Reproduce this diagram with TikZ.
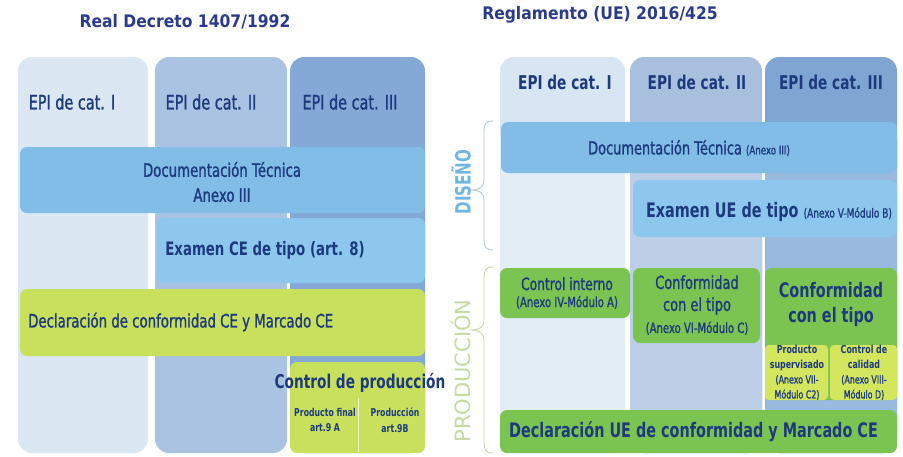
\documentclass[tikz,border=0pt]{standalone}
\usepackage{fontspec}
\setmainfont{DejaVu Sans}
\newfontfamily\nar{DejaVu Sans}[FakeStretch=0.72, FakeBold=1.2]
\newfontfamily\narb{DejaVu Sans Bold}[FakeStretch=0.72]
\newfontfamily\ttl{DejaVu Sans Bold}[FakeStretch=0.9]
\newfontfamily\sidef{DejaVu Sans}
\definecolor{navy}{HTML}{1E3A7E}
\definecolor{ttlc}{HTML}{2B3B8C}
\definecolor{lA}{HTML}{DBE7F3}
\definecolor{lB}{HTML}{AAC3E2}
\definecolor{lC}{HTML}{85A9D6}
\definecolor{rAh}{HTML}{D8E5F2}
\definecolor{rBh}{HTML}{A8BFDD}
\definecolor{rCh}{HTML}{7FA5D2}
\definecolor{rA}{HTML}{E3EDF6}
\definecolor{rB}{HTML}{BCCFE7}
\definecolor{rC}{HTML}{9AB9DE}
\definecolor{bband}{HTML}{82BDE8}
\definecolor{bexam}{HTML}{8DC7EE}
\definecolor{lime}{HTML}{C8E05C}
\definecolor{grn}{HTML}{7CC452}
\definecolor{subyel}{HTML}{D3E65E}
\definecolor{disc}{HTML}{6FB6E2}
\definecolor{discb}{HTML}{B5C8D6}
\definecolor{prodc}{HTML}{C6D9A0}
\definecolor{prodb}{HTML}{C8D6A8}
\begin{document}
\begin{tikzpicture}[x=1pt,y=-1pt,
  colbox/.style={inner sep=0pt, outer sep=0pt, rounded corners=14pt},
  band/.style={inner sep=0pt, outer sep=0pt, rounded corners=7pt},
  lbl/.style={inner sep=0pt, text=navy, align=center},
  bracel/.style={line width=0.9pt}
]
\useasboundingbox[fill=white] (0,0) rectangle (903,456);

% ---------- Left panel ----------
\node[inner sep=0pt, text=ttlc, font=\ttl\fontsize{17.3}{20}\selectfont] (Ltitle) at (185,22) {Real Decreto 1407/1992};

\node[colbox, fill=lA, minimum width=130pt, minimum height=396pt] (L1) at (83,255) {};
\node[colbox, fill=lB, minimum width=132pt, minimum height=396pt] (L2) at (221,255) {};
\node[colbox, fill=lC, minimum width=135pt, minimum height=396pt] (L3) at (357.5,255) {};

\node[lbl, font=\nar\fontsize{20}{24}\selectfont] (L1h) at (72,102) {EPI de cat. I};
\node[lbl, font=\nar\fontsize{20}{24}\selectfont] (L2h) at (211,102) {EPI de cat. II};
\node[lbl, font=\nar\fontsize{20}{24}\selectfont] (L3h) at (350,102) {EPI de cat. III};

\node[band, fill=bband, minimum width=405pt, minimum height=66pt] (LDoc) at (222.5,180) {};
\node[lbl, font=\nar\fontsize{18.5}{25}\selectfont] (LDoct) at (222,182) {Documentación Técnica\\Anexo III};

\node[band, fill=bexam, minimum width=268pt, minimum height=65pt] (LExam) at (291,250.5) {};
\node[lbl, font=\narb\fontsize{18.5}{22}\selectfont] (LExamt) at (265,250) {Examen CE de tipo (art. 8)};

\node[band, fill=lime, minimum width=405pt, minimum height=67pt] (LDecl) at (222.5,322.5) {};
\node[lbl, anchor=west, font=\nar\fontsize{18.5}{22}\selectfont] (LDeclt) at (28,322) {Declaración de conformidad CE y Marcado CE};

\node[band, fill=lime, minimum width=135pt, minimum height=91pt] (LCtrl) at (357.5,407.5) {};
\coordinate (LdivT) at (358,398);
\coordinate (LdivB) at (358,452);
\draw[white!70!lime, line width=0.8pt] (LdivT) -- (LdivB);
\node[lbl, font=\narb\fontsize{19}{22}\selectfont] (LCtrlt) at (360,383) {Control de producción};
\node[lbl, font=\narb\fontsize{10.8}{15.5}\selectfont] (LSub1) at (325,420) {Producto final\\art.9 A};
\node[lbl, font=\narb\fontsize{10.8}{15.5}\selectfont] (LSub2) at (395,420) {Producción\\art.9B};

% ---------- Right panel ----------
\node[inner sep=0pt, text=ttlc, font=\ttl\fontsize{17.3}{20}\selectfont] (Rtitle) at (600,15) {Reglamento (UE) 2016/425};

\node[colbox, fill=rAh, minimum width=125pt, minimum height=396pt] (R1) at (562.5,255) {};
\node[colbox, fill=rBh, minimum width=132pt, minimum height=396pt] (R2) at (696,255) {};
\node[colbox, fill=rCh, minimum width=132pt, minimum height=396pt] (R3) at (831,255) {};
\node[colbox, fill=rA, minimum width=125pt, minimum height=328pt] (R1l) at (562.5,289) {};
\node[colbox, fill=rB, minimum width=132pt, minimum height=328pt] (R2l) at (696,289) {};
\node[colbox, fill=rC, minimum width=132pt, minimum height=328pt] (R3l) at (831,289) {};

\node[lbl, font=\narb\fontsize{19}{22}\selectfont] (R1h) at (565,82) {EPI de cat. I};
\node[lbl, font=\narb\fontsize{19}{22}\selectfont] (R2h) at (697,82) {EPI de cat. II};
\node[lbl, font=\narb\fontsize{19}{22}\selectfont] (R3h) at (831,82) {EPI de cat. III};

\node[band, fill=bband, minimum width=396pt, minimum height=51pt] (RDoc) at (699,147.5) {};
\node[lbl, font=\nar\fontsize{18}{22}\selectfont] (RDoct) at (689,148) {Documentación Técnica {\fontsize{12}{14}\selectfont (Anexo III)}};

\node[band, fill=bexam, minimum width=264pt, minimum height=57pt] (RExam) at (765,208.5) {};
\node[lbl, font=\narb\fontsize{20}{22}\selectfont] (RExamt) at (769,212) {Examen UE de tipo {\nar\fontsize{12.5}{14}\selectfont (Anexo V-Módulo B)}};

\node[band, fill=grn, minimum width=130pt, minimum height=50pt] (RCi) at (565,293) {};
\node[lbl, font=\nar\fontsize{17}{17}\selectfont] (RCit) at (567,293) {Control interno\\{\fontsize{14}{14}\selectfont (Anexo IV-Módulo A)}};

\node[band, fill=grn, minimum width=127pt, minimum height=75pt] (RCm) at (696.5,305.5) {};
\node[lbl, font=\nar\fontsize{18}{22}\selectfont] (RCmt) at (697,305) {Conformidad\\con el tipo\\{\fontsize{14}{14}\selectfont (Anexo VI-Módulo C)}};

\node[band, fill=grn, minimum width=132pt, minimum height=132pt] (RCr) at (831,334) {};
\node[lbl, font=\narb\fontsize{20}{25}\selectfont] (RCrt) at (831,304) {Conformidad\\con el tipo};

\node[band, rounded corners=4pt, fill=subyel, minimum width=63pt, minimum height=55pt] (RS1) at (796.5,372.5) {};
\node[band, rounded corners=4pt, fill=subyel, minimum width=67pt, minimum height=55pt] (RS2) at (863.5,372.5) {};
\node[lbl, font=\nar\fontsize{11}{15}\selectfont] (RS1t) at (797,372.5) {{\narb Producto}\\{\narb supervisado}\\(Anexo VII-\\Módulo C2)};
\node[lbl, font=\nar\fontsize{11}{15}\selectfont] (RS2t) at (864,372.5) {{\narb Control de}\\{\narb calidad}\\(Anexo VIII-\\Módulo D)};

\node[band, fill=grn, minimum width=397pt, minimum height=43pt] (RDecl) at (698.5,431.5) {};
\node[lbl, font=\narb\fontsize{20}{22}\selectfont] (RDeclt) at (693.5,432) {Declaración UE de conformidad y Marcado CE};

% ---------- braces and side labels ----------
\draw[bracel, draw=discb] (493,121) .. controls (486,121) and (484,124) .. (484,131)
  -- (484,180) .. controls (484,187) and (479,190) .. (472,190)
  .. controls (479,190) and (484,193) .. (484,200)
  -- (484,240) .. controls (484,247) and (486,250) .. (493,250);
\draw[bracel, draw=prodb] (493,267) .. controls (486,267) and (484,270) .. (484,277)
  -- (484,320) .. controls (484,327) and (479,330) .. (472,330)
  .. controls (479,330) and (484,333) .. (484,340)
  -- (484,443) .. controls (484,450) and (486,453) .. (493,453);
\node[inner sep=0pt, rotate=90, text=disc, font=\narb\fontsize{21}{24}\selectfont] (Dis) at (461,182) {DISEÑO};
\node[inner sep=0pt, rotate=90, text=prodc, font=\sidef\fontsize{21}{24}\selectfont] (Pro) at (461,371) {PRODUCCIÓN};
\end{tikzpicture}
\end{document}
